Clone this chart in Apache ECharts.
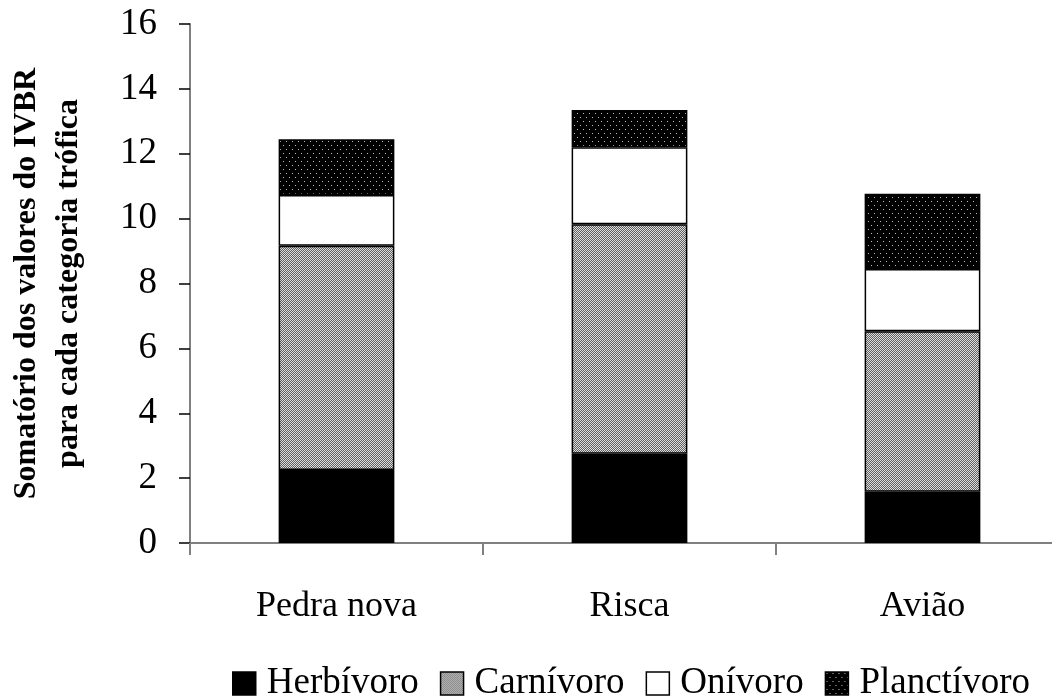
<!DOCTYPE html>
<html><head><meta charset="utf-8">
<script src="https://cdn.jsdelivr.net/npm/echarts@6/dist/echarts.min.js"></script>
<style>html,body{margin:0;padding:0;background:#fff}#c{width:1052px;height:698px}</style>
</head><body><div id="c"></div>
<script>
const categories = ['Pedra nova', 'Risca', 'Avião'];
const herbivoro = [2.25, 2.75, 1.58];
const carnivoro = [6.91, 7.08, 4.95];
const onivoro = [1.57, 2.37, 1.92];
const planctivoro = [1.72, 1.15, 2.32];
const seriesNames = ['Herbívoro', 'Carnívoro', 'Onívoro', 'Planctívoro'];

function makeTile(w, h, draw) {
  const c = document.createElement('canvas');
  c.width = w; c.height = h;
  const g = c.getContext('2d');
  draw(g);
  return c;
}
const grayTile = makeTile(2, 2, g => {
  g.fillStyle = '#606060'; g.fillRect(0, 0, 2, 2);
  g.fillStyle = '#dedede'; g.fillRect(0, 0, 1, 1); g.fillRect(1, 1, 1, 1);
});
const dotTile = makeTile(6, 8, g => {
  g.fillStyle = '#000'; g.fillRect(0, 0, 6, 8);
  g.fillStyle = '#bbbbbb'; g.fillRect(1, 1, 1, 1); g.fillRect(4, 5, 1, 1);
});
const fills = [
  '#000000',
  { image: grayTile, repeat: 'repeat' },
  '#ffffff',
  { image: dotTile, repeat: 'repeat' }
];
const dataSets = [herbivoro, carnivoro, onivoro, planctivoro];
const font = '"Liberation Serif", "Times New Roman", serif';

const chart = echarts.init(document.getElementById('c'), null, { renderer: 'canvas' });
chart.setOption({
  animation: false,
  backgroundColor: '#fff',
  grid: { left: 190, right: -17, top: 24, bottom: 155, outerBoundsMode: 'none', containLabel: false },
  legend: {
    left: 227, top: 660, itemWidth: 23, itemHeight: 23, itemGap: 21, icon: 'rect',
    textStyle: { fontFamily: font, fontSize: 37, color: '#000', padding: [0, 0, 0, 6] },
    data: seriesNames.map((n, i) => ({ name: n, itemStyle: { borderColor: '#000', borderWidth: 1.5 } }))
  },
  xAxis: {
    type: 'category', data: categories,
    axisLine: { lineStyle: { color: '#808080', width: 2 } },
    axisTick: { show: true, length: 12, lineStyle: { color: '#808080', width: 2 } },
    axisLabel: { fontFamily: font, fontSize: 36, color: '#000', margin: 46 }
  },
  yAxis: {
    type: 'value', min: 0, max: 16, interval: 2,
    name: 'Somatório dos valores do IVBR\npara cada categoria trófica',
    nameLocation: 'middle', nameGap: 100, nameRotate: 90,
    nameTextStyle: { fontFamily: font, fontSize: 32, fontWeight: 'bold', color: '#000', lineHeight: 42 },
    axisLine: { show: true, lineStyle: { color: '#808080', width: 2 } },
    axisTick: { show: true, length: 11, lineStyle: { color: '#000', width: 1.5 } },
    splitLine: { show: false },
    axisLabel: { fontFamily: font, fontSize: 37, color: '#000', margin: 33 }
  },
  series: dataSets.map((d, i) => ({
    name: seriesNames[i], type: 'bar', stack: 'total', data: d, barWidth: '39.5%',
    itemStyle: { color: fills[i], borderColor: '#000', borderWidth: 1.5 }
  }))
});
</script></body></html>
